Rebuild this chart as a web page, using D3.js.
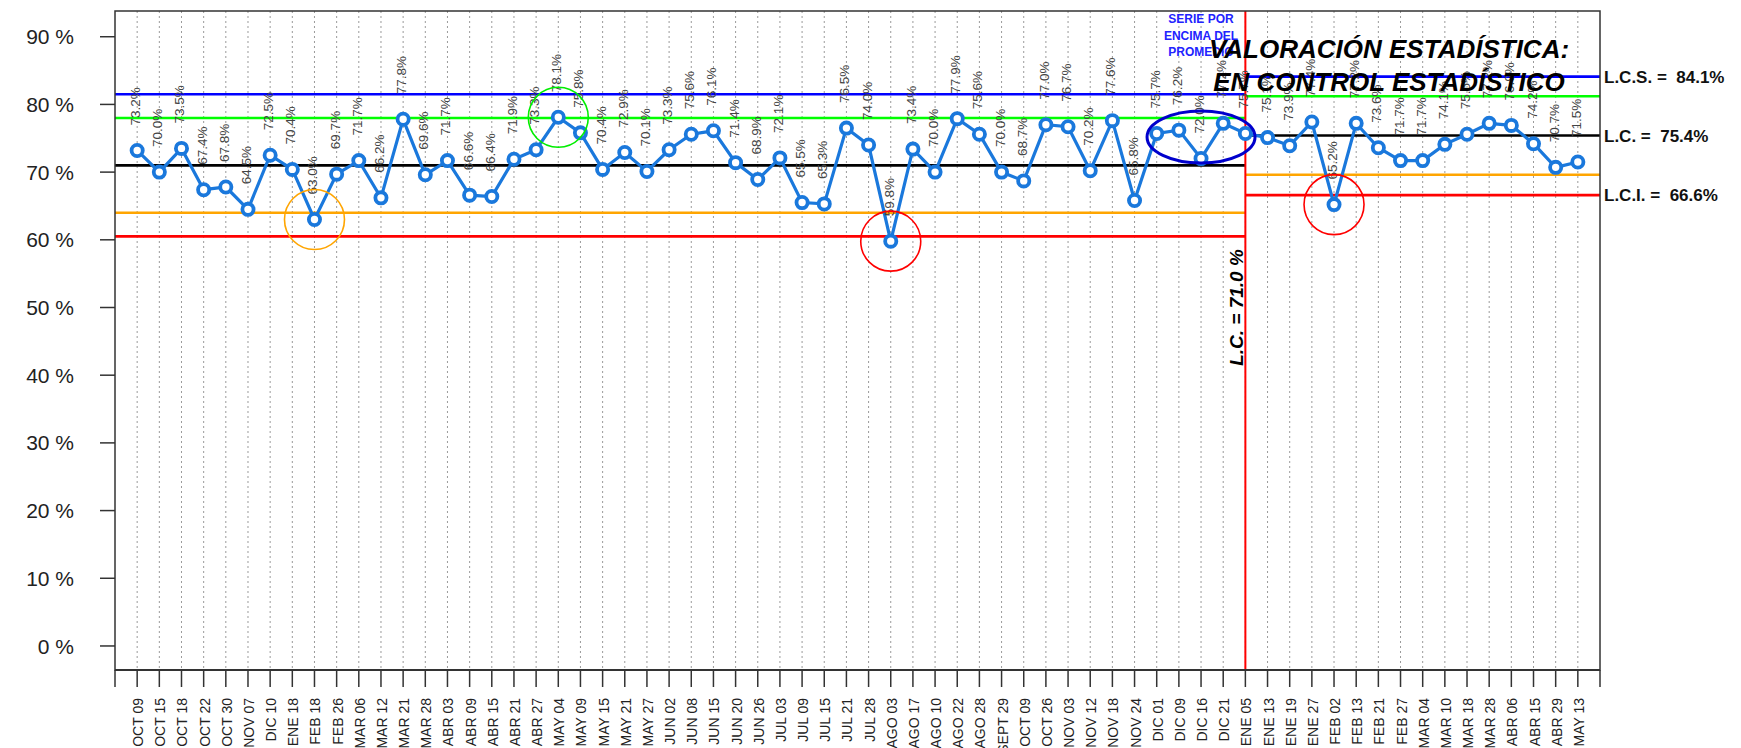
<!DOCTYPE html>
<html>
<head>
<meta charset="utf-8">
<script src="https://cdn.jsdelivr.net/npm/d3@7/dist/d3.min.js"></script>
<style>
  body { margin: 0; background: #fff; }
  text { font-family: "Liberation Sans", Arial, sans-serif; }
</style>
</head>
<body>
<div class="chart"></div>
<script>
// fechas de cada punto (eje x)
var fechas = ["OCT 09","OCT 15","OCT 18","OCT 22","OCT 30","NOV 07","DIC 10","ENE 18","FEB 18","FEB 26",
  "MAR 06","MAR 12","MAR 21","MAR 28","ABR 03","ABR 09","ABR 15","ABR 21","ABR 27","MAY 04",
  "MAY 09","MAY 15","MAY 21","MAY 27","JUN 02","JUN 08","JUN 15","JUN 20","JUN 26","JUL 03",
  "JUL 09","JUL 15","JUL 21","JUL 28","AGO 03","AGO 17","AGO 10","AGO 22","AGO 28","SEPT 29",
  "OCT 09","OCT 26","NOV 03","NOV 12","NOV 18","NOV 24","DIC 01","DIC 09","DIC 16","DIC 21",
  "ENE 05","ENE 13","ENE 19","ENE 27","FEB 02","FEB 13","FEB 21","FEB 27","MAR 04","MAR 10",
  "MAR 18","MAR 28","ABR 06","ABR 15","ABR 29","MAY 13"];

// porcentaje de cada punto
var valores = [73.2,70.0,73.5,67.4,67.8,64.5,72.5,70.4,63.0,69.7,
  71.7,66.2,77.8,69.6,71.7,66.6,66.4,71.9,73.3,78.1,
  75.8,70.4,72.9,70.1,73.3,75.6,76.1,71.4,68.9,72.1,
  65.5,65.3,76.5,74.0,59.8,73.4,70.0,77.9,75.6,70.0,
  68.7,77.0,76.7,70.2,77.6,65.8,75.7,76.2,72.0,77.2,
  75.7,75.1,73.9,77.4,65.2,77.2,73.6,71.7,71.7,74.1,
  75.6,77.2,76.9,74.2,70.7,71.5];

// limites: LCS, +2s, LC, -2s, LCI
var limites1 = [81.5, 78.0, 71.0, 64.0, 60.5];
var limites2 = [84.1, 81.2, 75.4, 69.6, 66.6];
var coloresLim = ["#0000ff", "#00ff00", "#000000", "#ffa500", "#ff0000"];
var corte = 51;          // primer punto de la segunda fase (ENE 05)
var yTicks = [0, 10, 20, 30, 40, 50, 60, 70, 80, 90];

// puntos senalados con circulo
var circIdx = [9, 20, 35, 55];
var circColor = ["#ffa500", "#00ee00", "#ff0000", "#ff0000"];
// serie por encima del promedio (elipse)
var elipseIdx = 49, elipseVal = 75.2;

var W = 1741, H = 748;
var svg = d3.select(".chart").append("svg")
  .attr("width", W).attr("height", H);

var x = d3.scaleLinear().domain([0, fechas.length + 1]).range([115, 1600]);
var y = d3.scaleLinear().domain([-3.55, 93.8]).range([670, 11]);

var azul = "#1a78dc";

// rejilla punteada vertical
svg.append("g").selectAll("line").data(fechas).enter().append("line")
  .attr("x1", function(d, i) { return x(i + 1); })
  .attr("x2", function(d, i) { return x(i + 1); })
  .attr("y1", y.range()[1]).attr("y2", y.range()[0])
  .attr("stroke", "#9a9a9a").attr("stroke-width", 1)
  .attr("stroke-dasharray", "2,3");

// lineas de control fase 1 y fase 2
function limitesFase(lims, a, b) {
  svg.append("g").selectAll("line").data(lims).enter().append("line")
    .attr("x1", x(a)).attr("x2", x(b))
    .attr("y1", function(d) { return y(d); })
    .attr("y2", function(d) { return y(d); })
    .attr("stroke", function(d, i) { return coloresLim[i]; })
    .attr("stroke-width", 2.6);
}
limitesFase(limites1, 0, corte);
limitesFase(limites2, corte, fechas.length + 1);

// separacion de fases
svg.append("line")
  .attr("x1", x(corte)).attr("x2", x(corte))
  .attr("y1", y.range()[1]).attr("y2", y.range()[0])
  .attr("stroke", "#ff0000").attr("stroke-width", 2);

// marco
svg.append("rect")
  .attr("x", x(0)).attr("y", y.range()[1])
  .attr("width", x(fechas.length + 1) - x(0))
  .attr("height", y.range()[0] - y.range()[1])
  .attr("fill", "none").attr("stroke", "#333").attr("stroke-width", 1.5);

// eje y
var gy = svg.append("g");
gy.selectAll("line").data(yTicks).enter().append("line")
  .attr("x1", x(0) - 15).attr("x2", x(0))
  .attr("y1", function(d) { return y(d); })
  .attr("y2", function(d) { return y(d); })
  .attr("stroke", "#333").attr("stroke-width", 1.5);
gy.selectAll("text").data(yTicks).enter().append("text")
  .attr("x", 74).attr("y", function(d) { return y(d); })
  .attr("dy", "0.36em").attr("text-anchor", "end")
  .attr("font-size", 21).attr("fill", "#222")
  .text(function(d) { return d + " %"; });

// eje x
var gx = svg.append("g");
gx.append("line")
  .attr("x1", x(0)).attr("x2", x(fechas.length + 1))
  .attr("y1", y.range()[0]).attr("y2", y.range()[0])
  .attr("stroke", "#333").attr("stroke-width", 2);
gx.selectAll("line.tick").data(d3.range(0, fechas.length + 2)).enter().append("line")
  .attr("class", "tick")
  .attr("x1", function(d) { return x(d); })
  .attr("x2", function(d) { return x(d); })
  .attr("y1", y.range()[0]).attr("y2", y.range()[0] + 17)
  .attr("stroke", "#333").attr("stroke-width", 1.5);
gx.selectAll("text").data(fechas).enter().append("text")
  .attr("transform", function(d, i) { return "translate(" + (x(i + 1) + 6) + ",698) rotate(-90)"; })
  .attr("text-anchor", "end")
  .attr("font-size", 14).attr("fill", "#222")
  .text(function(d) { return d; });

// serie
var puntos = valores.map(function(v, i) { return [x(i + 1), y(v)]; });
svg.append("path")
  .attr("d", d3.line()(puntos))
  .attr("fill", "none").attr("stroke", azul).attr("stroke-width", 3.2);
svg.append("g").selectAll("circle").data(puntos).enter().append("circle")
  .attr("cx", function(d) { return d[0]; })
  .attr("cy", function(d) { return d[1]; })
  .attr("r", 5.6)
  .attr("fill", "#fff").attr("stroke", azul).attr("stroke-width", 3.8);

// etiquetas de valores
svg.append("g").selectAll("text").data(valores).enter().append("text")
  .attr("transform", function(d, i) { return "translate(" + (x(i + 1) + 3) + "," + (y(d) - 25) + ") rotate(-90)"; })
  .attr("font-size", 13.5).attr("fill", "#444")
  .text(function(d) { return d.toFixed(1) + "%"; });

// circulos de senalizacion
svg.append("g").selectAll("circle").data(circIdx).enter().append("circle")
  .attr("cx", function(d) { return x(d); })
  .attr("cy", function(d) { return y(valores[d - 1]); })
  .attr("r", 30)
  .attr("fill", "none")
  .attr("stroke", function(d, i) { return circColor[i]; })
  .attr("stroke-width", 1.6);

svg.append("ellipse")
  .attr("cx", x(elipseIdx)).attr("cy", y(elipseVal))
  .attr("rx", 54).attr("ry", 26)
  .attr("fill", "none").attr("stroke", "#0000cc").attr("stroke-width", 3);

svg.append("text")
  .attr("x", x(elipseIdx)).attr("y", 23)
  .attr("text-anchor", "middle").attr("font-size", 12).attr("font-weight", "bold")
  .attr("fill", "#2222ff")
  .selectAll("tspan").data(["SERIE POR", "ENCIMA DEL", "PROMEDIO"]).enter().append("tspan")
  .attr("x", x(elipseIdx)).attr("dy", function(d, i) { return i ? 16.5 : 0; })
  .text(function(d) { return d; });

// titulo de valoracion
svg.append("text")
  .attr("x", 1389).attr("y", 58)
  .attr("text-anchor", "middle").attr("font-size", 26)
  .attr("font-weight", "bold").attr("font-style", "italic").attr("fill", "#000")
  .text("VALORACIÓN ESTADÍSTICA:");
svg.append("text")
  .attr("x", 1389).attr("y", 91)
  .attr("text-anchor", "middle").attr("font-size", 26)
  .attr("font-weight", "bold").attr("font-style", "italic").attr("fill", "#000")
  .text("EN CONTROL ESTADÍSTICO");

// etiquetas de limites fase 2
var etiqLim = [["L.C.S. =  ", limites2[0]], ["L.C. =  ", limites2[2]], ["L.C.I. =  ", limites2[4]]];
svg.append("g").selectAll("text").data(etiqLim).enter().append("text")
  .attr("x", 1604).attr("y", function(d) { return y(d[1]); })
  .attr("dy", "0.36em").attr("font-size", 17).attr("font-weight", "bold").attr("fill", "#111")
  .style("white-space", "pre")
  .text(function(d) { return d[0] + d[1].toFixed(1) + "%"; });

// LC fase 1 vertical
svg.append("text")
  .attr("transform", "translate(" + (x(corte) - 2) + "," + y(50) + ") rotate(-90)")
  .attr("text-anchor", "middle").attr("font-size", 19)
  .attr("font-weight", "bold").attr("font-style", "italic").attr("fill", "#000")
  .text("L.C. = " + limites1[2].toFixed(1) + " %");
</script>
</body>
</html>
